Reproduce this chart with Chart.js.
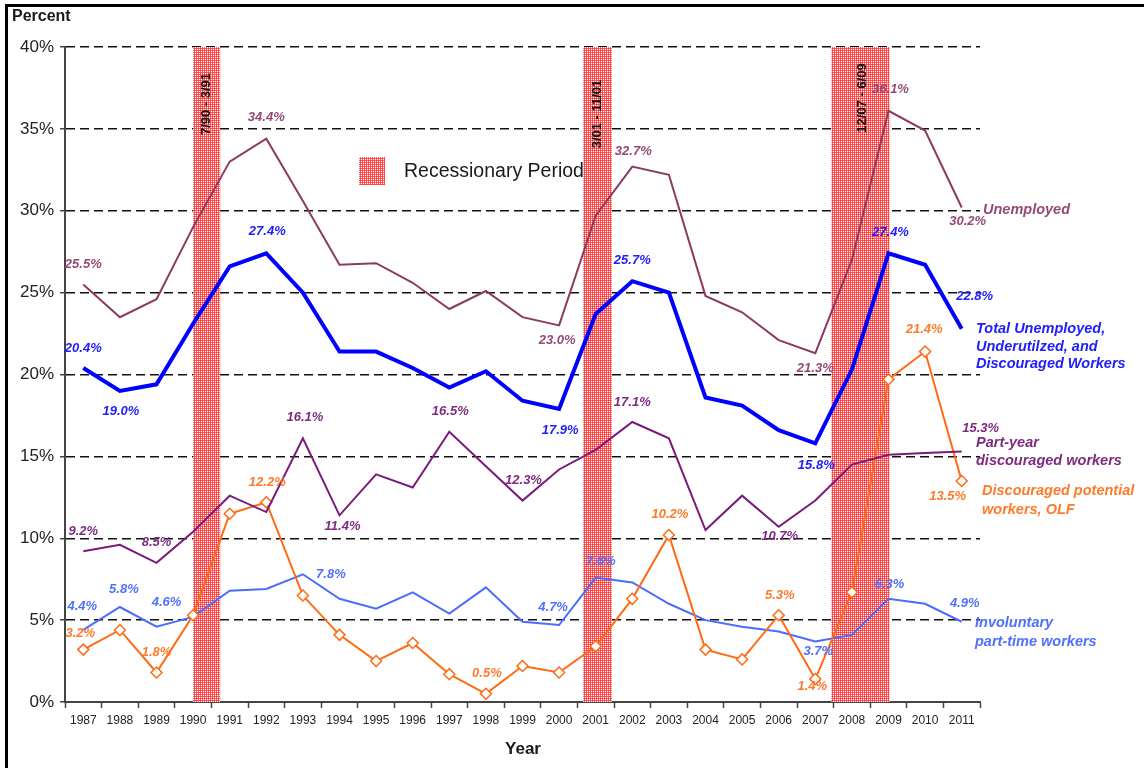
<!DOCTYPE html>
<html>
<head>
<meta charset="utf-8">
<title>Unemployed and underutilized workers</title>
<script src="https://cdn.jsdelivr.net/npm/chart.js@4/dist/chart.umd.min.js"></script>
<style>
  body { margin: 0; background: #fff; }
  #wrap { width: 1144px; height: 768px; position: relative; }
</style>
</head>
<body>
<div id="wrap"><canvas id="myChart" width="1144" height="768"></canvas></div>
<script>
// data
const years = ['1987','1988','1989','1990','1991','1992','1993','1994','1995','1996','1997','1998','1999',
	'2000','2001','2002','2003','2004','2005','2006','2007','2008','2009','2010','2011'];

const unemployed   = [25.5,23.5,24.6,29.0,33.0,34.4,30.6,26.7,26.8,25.6,24.0,25.1,23.5,23.0,29.7,32.7,32.2,24.8,23.8,22.1,21.3,27.0,36.1,34.9,30.2];
const totalUnder   = [20.4,19.0,19.4,23.1,26.6,27.4,25.0,21.4,21.4,20.4,19.2,20.2,18.4,17.9,23.7,25.7,25.0,18.6,18.1,16.6,15.8,20.3,27.4,26.7,22.8];
const partYear     = [9.2,9.6,8.5,10.4,12.6,11.6,16.1,11.4,13.9,13.1,16.5,14.4,12.3,14.2,15.4,17.1,16.1,10.5,12.6,10.7,12.3,14.5,15.1,15.2,15.3];
const olf          = [3.2,4.4,1.8,5.3,11.5,12.2,6.5,4.1,2.5,3.6,1.7,0.5,2.2,1.8,3.4,6.3,10.2,3.2,2.6,5.3,1.4,6.7,19.7,21.4,13.5];
const involuntary  = [4.4,5.8,4.6,5.2,6.8,6.9,7.8,6.3,5.7,6.7,5.4,7.0,4.9,4.7,7.6,7.3,6.0,5.0,4.6,4.3,3.7,4.1,6.3,6.0,4.9];

const yTicks = [0,5,10,15,20,25,30,35,40];

// recessions, in category index units (1987 = 0)
const recessionNames = ['7/90 - 3/91', '3/01 - 11/01', '12/07 - 6/09'];
const recessionFrom  = [3.0, 13.66, 20.44];
const recessionTo    = [3.74, 14.44, 22.03];

// series names at the right end
const seriesNames = [
	['Unemployed'],
	['Total Unemployed,', 'Underutilzed, and', 'Discouraged Workers'],
	['Part-year', 'discouraged workers'],
	['Discouraged potential', 'workers, OLF'],
	['Involuntary', 'part-time workers']
];

// which points get a value label
const labelIdx = [
	[0, 5, 13, 15, 20, 22, 24],
	[0, 1, 5, 13, 15, 20, 22, 24],
	[0, 2, 6, 7, 10, 12, 15, 19, 24],
	[0, 2, 5, 11, 16, 19, 20, 23, 24],
	[0, 1, 2, 6, 13, 14, 20, 22, 24]
];

//----- styling / placement, kept apart from the data -----
const FONT = "'Liberation Sans', Arial, sans-serif";
const lineColors  = ['#8B3A62', '#0000FF', '#7A1A7A', '#FF6A13', '#4A6CFF'];
const labelColors = ['#954A74', '#2020FF', '#7E2A80', '#FF7A2A', '#4F70FF'];

// label offsets from the point [dx, dy], same shape as labelIdx
const labelOff = [
	[[0,-20],[0,-21],[-2,15],[1,-15],[0,15],[2,-21],[6,14]],
	[[0,-20],[1,21],[1,-22],[1,22],[0,-21],[1,22],[2,-21],[13,-32]],
	[[0,-20],[0,-20],[2,-21],[3,11],[1,-20],[1,-20],[0,-20],[1,10],[19,-23]],
	[[-3,-16],[0,-20],[1,-20],[1,-20],[1,-21],[1,-20],[-3,7],[-1,-22],[-14,15]],
	[[-1,-24],[4,-18],[10,-24],[28,0],[-6,-18],[5,-16],[3,10],[1,-14],[3,-18]]
];

// name block positions (left x, first line y, line step)
const namePos = [[983,210,18],[976,329,17.5],[976,443,18],[982,491,18.5],[975,623,18.5]];

// dotted red fill for the recession bands
function makeDots() {
	var c = document.createElement('canvas');
	c.width = 2; c.height = 2;
	var g = c.getContext('2d');
	g.fillStyle = 'rgb(255,50,50)';
	g.fillRect(0, 0, 2, 2);
	g.fillStyle = 'rgb(255,95,95)';
	g.fillRect(1, 0, 1, 1);
	g.fillRect(0, 1, 1, 1);
	g.fillStyle = '#ffffff';
	g.fillRect(1, 1, 1, 1);
	return c;
}

const bandPlugin = {
	id: 'bands',
	beforeDatasetsDraw(chart) {
		const ctx = chart.ctx;
		const xs = chart.scales.x, ys = chart.scales.y;
		const step = xs.getPixelForValue(1) - xs.getPixelForValue(0);
		const pat = ctx.createPattern(makeDots(), 'repeat');
		ctx.save();
		for (var i = 0; i < recessionFrom.length; i++) {
			var x1 = xs.getPixelForValue(0) + recessionFrom[i] * step;
			var x2 = xs.getPixelForValue(0) + recessionTo[i] * step;
			var top = ys.getPixelForValue(40), bot = ys.getPixelForValue(0);
			ctx.fillStyle = pat;
			ctx.fillRect(x1, top, x2 - x1, bot - top);
		}
		ctx.restore();
	},
	afterDatasetsDraw(chart) {
		const ctx = chart.ctx;
		const xs = chart.scales.x, ys = chart.scales.y;
		const step = xs.getPixelForValue(1) - xs.getPixelForValue(0);
		ctx.save();
		ctx.fillStyle = '#111';
		ctx.font = 'bold 13px ' + FONT;
		ctx.textAlign = 'center';
		ctx.textBaseline = 'middle';
		var tops = [104, 114, 98];
		for (var i = 0; i < recessionNames.length; i++) {
			var cx = xs.getPixelForValue(0) + (recessionFrom[i] + recessionTo[i]) / 2 * step;
			if (i == 2) cx += 2;
			ctx.save();
			ctx.translate(cx, tops[i]);
			ctx.rotate(-Math.PI / 2);
			ctx.fillText(recessionNames[i], 0, 0);
			ctx.restore();
		}
		ctx.restore();
	}
};

const textPlugin = {
	id: 'texts',
	afterDraw(chart) {
		const ctx = chart.ctx;
		ctx.save();
		// value labels
		ctx.font = 'italic bold 13px ' + FONT;
		ctx.textAlign = 'center';
		ctx.textBaseline = 'middle';
		chart.data.datasets.forEach(function (ds, d) {
			var meta = chart.getDatasetMeta(d);
			ctx.fillStyle = labelColors[d];
			labelIdx[d].forEach(function (i, k) {
				var p = meta.data[i];
				ctx.fillText(ds.data[i].toFixed(1) + '%', p.x + labelOff[d][k][0], p.y + labelOff[d][k][1]);
			});
		});

		// series names
		ctx.font = 'italic bold 14.5px ' + FONT;
		ctx.textAlign = 'left';
		seriesNames.forEach(function (lines, d) {
			ctx.fillStyle = labelColors[d];
			lines.forEach(function (t, j) {
				ctx.fillText(t, namePos[d][0], namePos[d][1] + j * namePos[d][2]);
			});
		});

		// legend for recessions
		ctx.fillStyle = ctx.createPattern(makeDots(), 'repeat');
		ctx.fillRect(359, 157, 26, 28);
		ctx.fillStyle = '#1a1a1a';
		ctx.font = '19.5px ' + FONT;
		ctx.fillText('Recessionary Period', 404, 172);

		// axis captions
		ctx.font = 'bold 16px ' + FONT;
		ctx.fillText('Percent', 12, 17);
		ctx.font = 'bold 17px ' + FONT;
		ctx.textAlign = 'center';
		ctx.fillText('Year', 523, 749);

		// frame
		ctx.fillStyle = '#000';
		ctx.fillRect(5, 4, 1139, 3);
		ctx.fillRect(5, 4, 3, 764);
		ctx.restore();
	}
};

const ctx = document.getElementById('myChart').getContext('2d');
const data0 = {
	labels: years,
	datasets: [
		{ label: 'Unemployed', data: unemployed, borderColor: lineColors[0], borderWidth: 2, pointRadius: 0 },
		{ label: 'Total', data: totalUnder, borderColor: lineColors[1], borderWidth: 4, pointRadius: 0 },
		{ label: 'Part-year', data: partYear, borderColor: lineColors[2], borderWidth: 2, pointRadius: 0 },
		{ label: 'OLF', data: olf, borderColor: lineColors[3], borderWidth: 2, pointStyle: 'rectRot',
			pointRadius: 5.5, pointBackgroundColor: '#fff', pointBorderColor: lineColors[3], pointBorderWidth: 1.5 },
		{ label: 'Involuntary', data: involuntary, borderColor: lineColors[4], borderWidth: 2, pointRadius: 0 }
	]
};

const config = {
	type: 'line',
	data: data0,
	options: {
		responsive: false,
		animation: false,
		events: [],
		layout: { padding: { top: 47, right: 164, left: 0, bottom: 0 } },
		elements: { line: { tension: 0, fill: false } },
		plugins: { legend: { display: false }, tooltip: { enabled: false } },
		scales: {
			x: {
				offset: true,
				grid: { drawOnChartArea: false, offset: true, tickLength: 6, tickColor: '#444', tickWidth: 1.5 },
				border: { color: '#444', width: 2 },
				ticks: { color: '#222', font: { family: FONT, size: 12 }, padding: 5, maxRotation: 0, autoSkip: false },
				afterFit: function (s) { s.height = 66; }
			},
			y: {
				min: 0, max: 40,
				afterBuildTicks: function (s) { s.ticks = yTicks.map(v => ({ value: v })); },
				grid: { color: '#111', lineWidth: 1.5, tickLength: 5, tickColor: '#444', tickBorderDash: [] },
				border: { color: '#444', width: 2, dash: [9, 5] },
				ticks: { color: '#222', font: { family: FONT, size: 17 }, padding: 6, callback: v => v + '%' },
				afterFit: function (s) { s.width = 65; }
			}
		}
	},
	plugins: [bandPlugin, textPlugin]
};
const myChart = new Chart(ctx, config);
</script>
</body>
</html>
